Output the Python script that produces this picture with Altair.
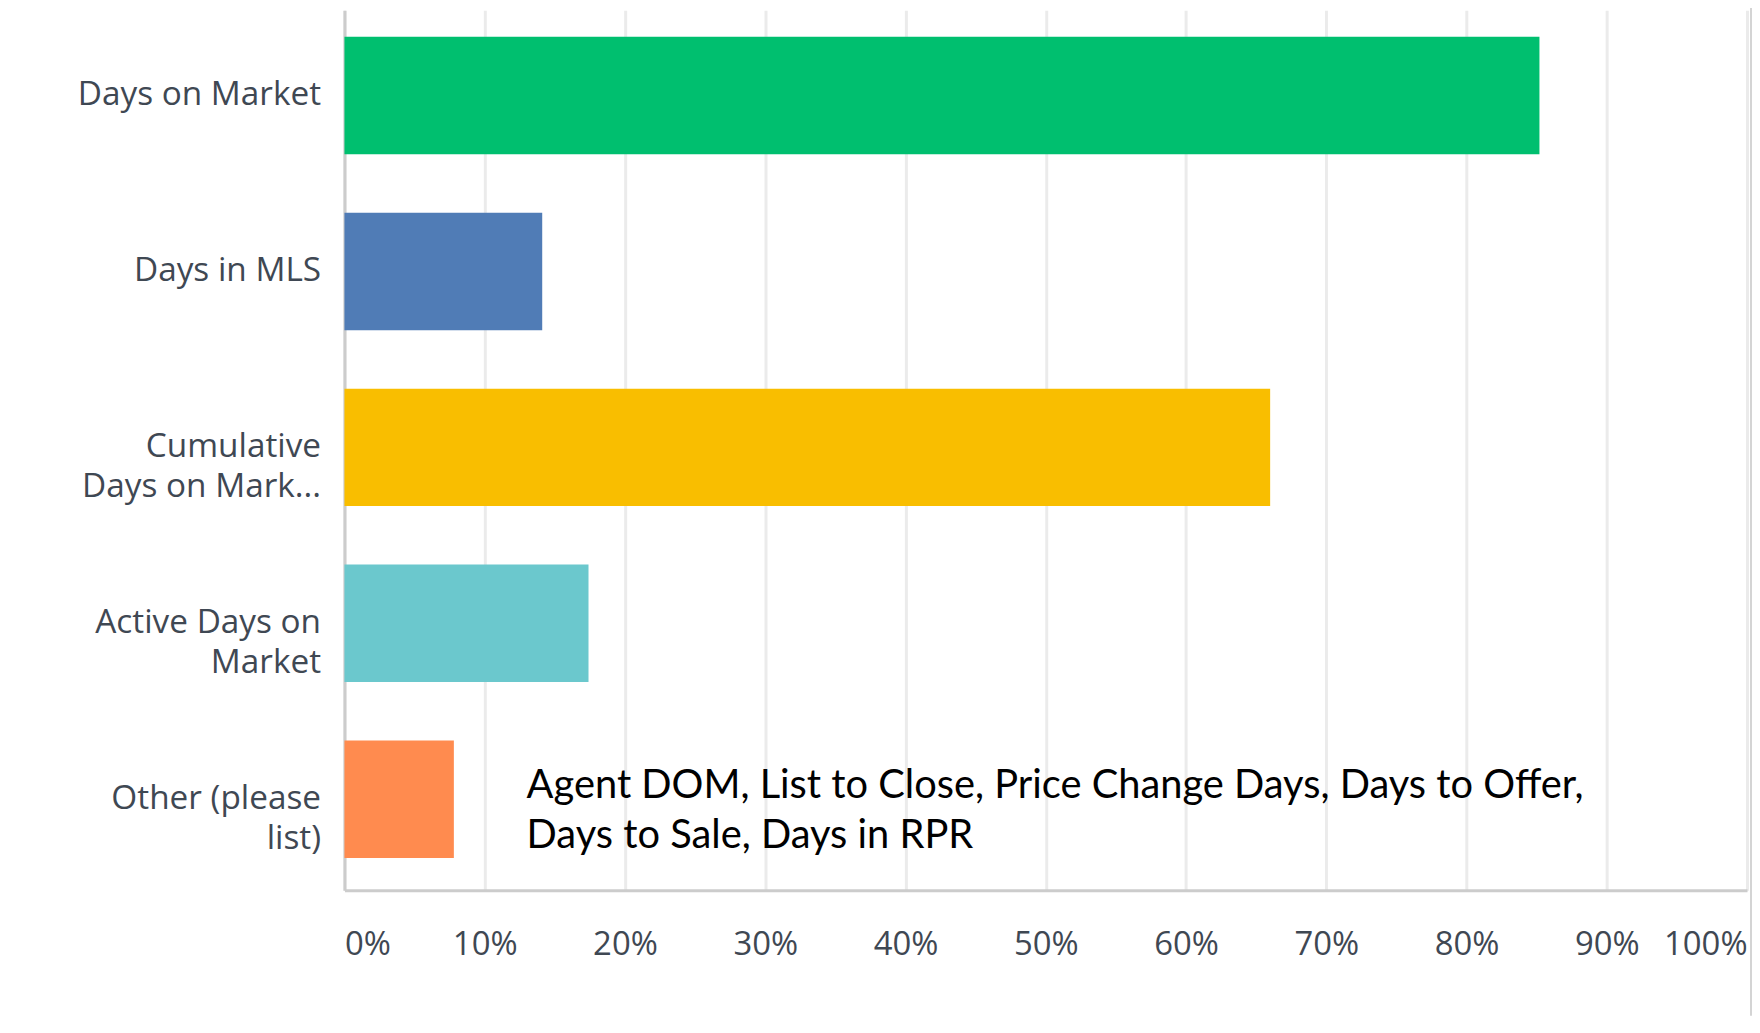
import json
import altair as alt
import pandas as pd

# ---- data ----
categories = [
    "Days on Market",
    "Days in MLS",
    "Cumulative Days on Mark...",
    "Active Days on Market",
    "Other (please list)",
]
label_lines = [
    ["Days on Market"],
    ["Days in MLS"],
    ["Cumulative", "Days on Mark..."],
    ["Active Days on", "Market"],
    ["Other (please", "list)"],
]
percent = [85.2, 14.1, 66.0, 17.4, 7.8]
bar_colors = ["#00bf6f", "#507cb6", "#f9be00", "#6bc8cd", "#ff8b4f"]
x_ticks = [0, 10, 20, 30, 40, 50, 60, 70, 80, 90, 100]
note_lines = [
    "Agent DOM, List to Close, Price Change Days, Days to Offer,",
    "Days to Sale, Days in RPR",
]

df = pd.DataFrame({"category": categories, "percent": percent})

# multi-line y labels
expr = "datum.value"
for cat, lines in reversed(list(zip(categories, label_lines))):
    expr = f"datum.value == {json.dumps(cat)} ? {json.dumps(lines)} : ({expr})"

LABEL_FONT = "Open Sans"
LABEL_COLOR = "#3f4853"

bars = alt.Chart(df).mark_bar().encode(
    x=alt.X(
        "percent:Q",
        scale=alt.Scale(domain=[0, 100], nice=False),
        axis=alt.Axis(
            values=x_ticks,
            labelExpr="datum.value + '%'",
            title=None,
            ticks=False,
            domainColor="#cccccc",
            domainWidth=3,
            gridColor="#ebebeb",
            gridWidth=3,
            labelFlush=True,
            labelBaseline="middle",
            labelPadding=55,
            labelFont=LABEL_FONT,
            labelFontSize=33,
            labelColor=LABEL_COLOR,
        ),
    ),
    y=alt.Y(
        "category:N",
        sort=categories,
        scale=alt.Scale(paddingInner=0.3324, paddingOuter=0.167, align=0.45),
        axis=alt.Axis(
            title=None,
            ticks=False,
            grid=False,
            domainColor="#cccccc",
            domainWidth=3,
            labelExpr=expr,
            labelAlign="right",
            labelBaseline="middle",
            labelPadding=24,
            labelLimit=600,
            labelLineHeight=40,
            labelFont=LABEL_FONT,
            labelFontSize=33.5,
            labelColor=LABEL_COLOR,
        ),
    ),
    color=alt.Color(
        "category:N",
        scale=alt.Scale(domain=categories, range=bar_colors),
        legend=None,
    ),
)

note = alt.Chart(pd.DataFrame({"n": [0]})).mark_text(
    text=note_lines,
    align="left",
    baseline="alphabetic",
    lineHeight=51,
    font="Lato",
    fontSize=40,
    color="#000000",
).encode(x=alt.value(183), y=alt.value(791))

edge = alt.Chart(pd.DataFrame({"n": [0]})).mark_rect(color="#d4d4d4").encode(
    x=alt.value(1412), x2=alt.value(1416), y=alt.value(-8), y2=alt.value(1010)
)

chart = (
    alt.layer(bars, note, edge)
    .properties(
        width=1409,
        height=884,
        autosize=alt.AutoSizeParams(type="none"),
        padding={"left": 338, "top": 0, "right": 5, "bottom": 133},
        background="#ffffff",
    )
    .configure_view(stroke=None)
)

chart.save("out.html", embed_options={"renderer": "svg", "actions": False})
